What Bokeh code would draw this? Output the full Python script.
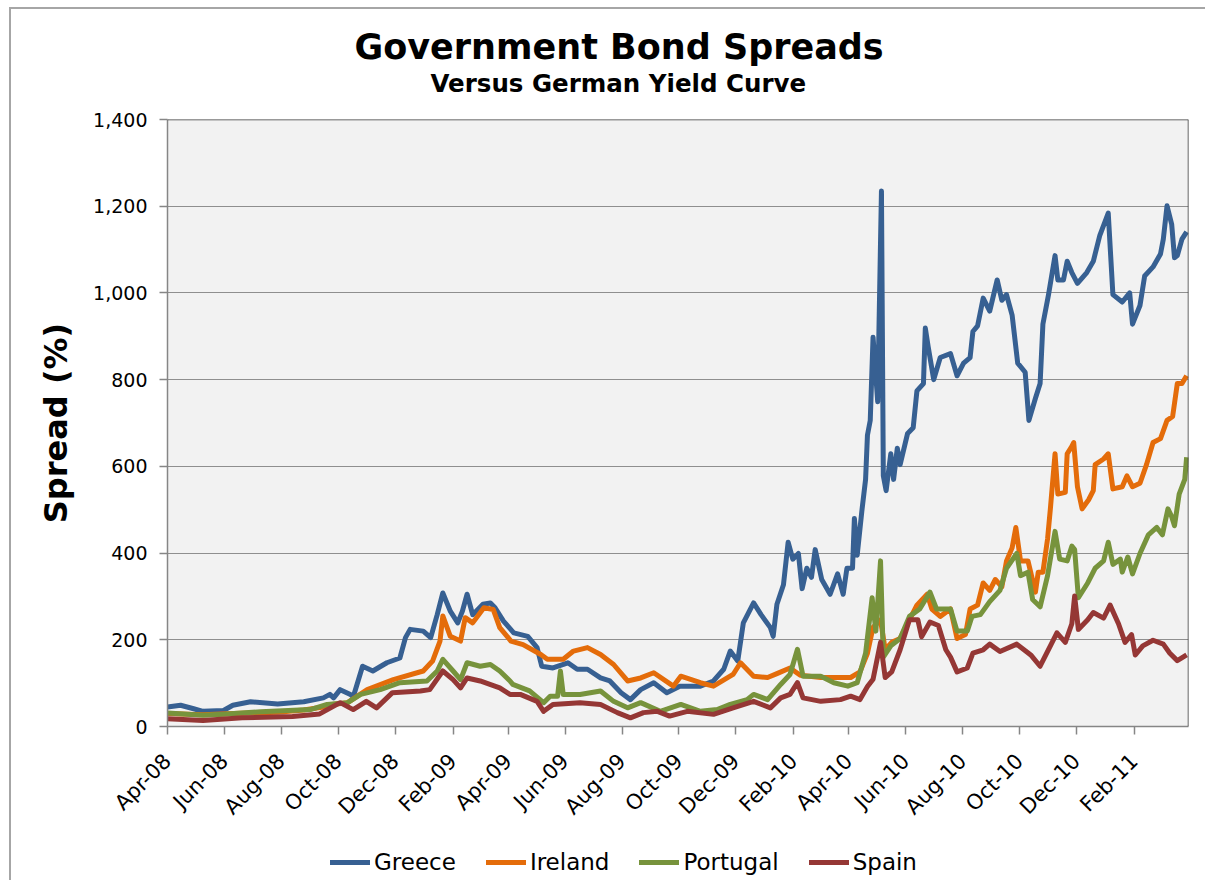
import math
import pandas as pd
from bokeh.plotting import figure
from bokeh.layouts import column
from bokeh.models import (Range1d, FixedTicker, DatetimeTickFormatter, NumeralTickFormatter,
                          Legend, LegendItem, Title, Span)
from bokeh.embed import file_html
from bokeh.resources import INLINE

# ---------------- data (basis points) ----------------
greece_dates = ["2008-04-01","2008-04-15","2008-04-29","2008-05-09","2008-05-31","2008-06-10","2008-06-29",
    "2008-07-28","2008-08-25","2008-09-15","2008-09-22","2008-09-26","2008-10-03","2008-10-14","2008-10-17",
    "2008-10-27","2008-11-07","2008-11-22","2008-12-06","2008-12-12","2008-12-17","2008-12-31","2009-01-08",
    "2009-01-15","2009-01-21","2009-01-29","2009-02-06","2009-02-11","2009-02-16","2009-02-22","2009-03-05",
    "2009-03-13","2009-03-18","2009-03-27","2009-04-07","2009-04-22","2009-05-02","2009-05-07","2009-05-19",
    "2009-06-04","2009-06-14","2009-06-25","2009-07-09","2009-07-19","2009-07-31","2009-08-10","2009-08-21",
    "2009-09-04","2009-09-18","2009-10-02","2009-10-24","2009-11-07","2009-11-18","2009-11-25","2009-12-03",
    "2009-12-09","2009-12-20","2009-12-28","2010-01-07","2010-01-10","2010-01-14","2010-01-21","2010-01-26",
    "2010-01-31","2010-02-06","2010-02-10","2010-02-15","2010-02-20","2010-02-24","2010-03-03","2010-03-12",
    "2010-03-20","2010-03-26","2010-03-30","2010-04-05","2010-04-07","2010-04-10","2010-04-15","2010-04-19",
    "2010-04-21","2010-04-24","2010-04-27","2010-05-02","2010-05-03","2010-05-06","2010-05-08","2010-05-11",
    "2010-05-16","2010-05-19","2010-05-23","2010-05-26","2010-06-03","2010-06-09","2010-06-13","2010-06-20",
    "2010-06-22","2010-06-25","2010-07-01","2010-07-08","2010-07-19","2010-07-26","2010-08-02","2010-08-09",
    "2010-08-12","2010-08-17","2010-08-23","2010-08-30","2010-09-07","2010-09-12","2010-09-17","2010-09-23",
    "2010-09-29","2010-10-07","2010-10-11","2010-10-18","2010-10-23","2010-10-26","2010-11-01","2010-11-08",
    "2010-11-11","2010-11-17","2010-11-21","2010-11-26","2010-12-02","2010-12-12","2010-12-19","2010-12-26",
    "2011-01-04","2011-01-09","2011-01-19","2011-01-27","2011-01-30","2011-02-07","2011-02-12","2011-02-21",
    "2011-03-01","2011-03-04","2011-03-08","2011-03-13","2011-03-16","2011-03-19","2011-03-24","2011-03-29"]
greece_values = [45,49,41,35,37,49,57,
    52,57,66,74,66,85,74,68,
    139,128,147,158,205,224,220,205,
    258,308,266,239,266,305,258,282,
    285,274,243,216,208,182,139,135,
    147,132,132,112,105,78,62,85,
    101,78,93,93,105,132,174,151,
    239,285,258,228,208,282,327,425,
    386,399,318,365,344,408,339,305,
    352,305,365,365,480,395,497,570,
    672,706,898,749,877,1235,578,544,
    629,570,642,604,676,689,774,791,
    919,877,800,851,860,809,838,851,
    911,924,988,958,1030,983,996,949,
    838,817,706,757,791,928,996,1086,
    1030,1030,1073,1047,1022,1047,1073,1133,
    1184,996,979,1000,928,971,1039,1060,
    1090,1124,1201,1158,1081,1086,1124,1141]

ireland_dates = ["2008-04-01","2008-05-09","2008-06-10","2008-07-28","2008-08-25","2008-09-15","2008-09-22",
    "2008-10-11","2008-11-01","2008-11-29","2008-12-31","2009-01-10","2009-01-18","2009-01-21","2009-01-29",
    "2009-02-09","2009-02-14","2009-02-22","2009-03-06","2009-03-16","2009-03-23","2009-04-01","2009-04-04",
    "2009-04-17","2009-05-06","2009-05-13","2009-05-30","2009-06-10","2009-06-25","2009-07-09","2009-07-23",
    "2009-08-07","2009-08-21","2009-09-04","2009-09-25","2009-10-03","2009-10-24","2009-11-07","2009-11-28",
    "2009-12-06","2009-12-20","2010-01-04","2010-01-14","2010-01-28","2010-02-08","2010-03-02","2010-03-20",
    "2010-04-03","2010-04-13","2010-04-21","2010-04-27","2010-05-05","2010-05-10","2010-05-17","2010-05-26",
    "2010-06-05","2010-06-13","2010-06-24","2010-06-29","2010-07-08","2010-07-19","2010-07-26","2010-08-04",
    "2010-08-09","2010-08-17","2010-08-23","2010-08-30","2010-09-05","2010-09-12","2010-09-17","2010-09-23",
    "2010-09-27","2010-10-02","2010-10-10","2010-10-18","2010-10-21","2010-10-26","2010-10-31","2010-11-03",
    "2010-11-08","2010-11-11","2010-11-19","2010-11-21","2010-11-26","2010-11-28","2010-12-02","2010-12-07",
    "2010-12-14","2010-12-19","2010-12-21","2010-12-30","2011-01-04","2011-01-09","2011-01-19","2011-01-24",
    "2011-01-30","2011-02-07","2011-02-14","2011-02-21","2011-03-01","2011-03-08","2011-03-14","2011-03-19",
    "2011-03-24","2011-03-29"]
ireland_values = [30,27,30,33,38,45,50,
    55,85,108,128,151,197,255,208,
    197,251,239,274,270,228,205,197,
    189,166,155,155,174,182,166,143,
    105,112,124,93,116,101,93,120,
    147,116,113,122,135,118,113,113,
    113,126,169,229,246,177,194,203,
    246,280,305,271,254,271,203,212,
    271,280,331,314,339,322,382,412,
    459,382,382,310,356,356,433,502,
    629,536,540,629,646,655,553,502,
    523,544,604,617,629,548,553,578,
    553,561,604,655,664,706,715,791,
    791,809]

portugal_dates = ["2008-04-01","2008-05-09","2008-05-31","2008-07-10","2008-09-01","2008-09-19","2008-10-11",
    "2008-10-25","2008-11-15","2008-12-06","2009-01-04","2009-01-15","2009-01-21","2009-02-01","2009-02-09",
    "2009-02-16","2009-03-02","2009-03-13","2009-03-23","2009-04-03","2009-04-06","2009-04-24","2009-05-09",
    "2009-05-16","2009-05-24","2009-05-27","2009-05-30","2009-06-17","2009-07-09","2009-07-23","2009-08-07",
    "2009-08-21","2009-09-11","2009-10-03","2009-10-24","2009-11-11","2009-11-25","2009-12-13","2009-12-20",
    "2010-01-04","2010-01-18","2010-01-28","2010-02-05","2010-02-11","2010-03-02","2010-03-16","2010-03-31",
    "2010-04-10","2010-04-19","2010-04-26","2010-04-30","2010-05-05","2010-05-08","2010-05-16","2010-05-26",
    "2010-06-05","2010-06-16","2010-06-27","2010-07-04","2010-07-19","2010-07-26","2010-08-06","2010-08-11",
    "2010-08-20","2010-08-30","2010-09-10","2010-09-17","2010-09-28","2010-10-02","2010-10-10","2010-10-15",
    "2010-10-23","2010-10-31","2010-11-08","2010-11-13","2010-11-21","2010-11-26","2010-11-29","2010-12-03",
    "2010-12-13","2010-12-21","2010-12-30","2011-01-04","2011-01-09","2011-01-17","2011-01-19","2011-01-25",
    "2011-01-30","2011-02-07","2011-02-16","2011-02-25","2011-03-03","2011-03-09","2011-03-13","2011-03-16",
    "2011-03-21","2011-03-27","2011-03-29"]
portugal_values = [31,26,28,34,39,51,55,
    74,85,101,105,128,155,128,108,
    147,139,143,128,105,97,82,55,
    70,70,128,74,74,82,58,43,
    55,35,51,35,39,51,62,74,
    62,97,120,178,116,116,101,93,
    101,169,297,220,382,160,186,203,
    254,271,310,271,271,220,220,254,
    258,288,314,365,399,348,356,293,
    276,348,450,386,382,416,408,297,
    331,365,382,425,374,386,356,391,
    352,399,442,459,442,502,484,463,
    536,570,621]

spain_dates = ["2008-04-01","2008-05-09","2008-06-20","2008-08-13","2008-09-11","2008-10-03","2008-10-17",
    "2008-10-31","2008-11-11","2008-11-28","2008-12-28","2009-01-07","2009-01-21","2009-02-01","2009-02-09",
    "2009-02-16","2009-03-02","2009-03-23","2009-04-03","2009-04-14","2009-05-02","2009-05-09","2009-05-19",
    "2009-06-17","2009-07-09","2009-07-27","2009-08-10","2009-08-24","2009-09-08","2009-09-21","2009-10-10",
    "2009-11-07","2009-11-28","2009-12-20","2010-01-07","2010-01-18","2010-01-28","2010-02-05","2010-02-11",
    "2010-03-02","2010-03-23","2010-04-03","2010-04-13","2010-04-21","2010-04-27","2010-05-05","2010-05-10",
    "2010-05-17","2010-05-26","2010-06-05","2010-06-14","2010-06-18","2010-06-27","2010-07-06","2010-07-14",
    "2010-07-19","2010-07-26","2010-08-06","2010-08-12","2010-08-23","2010-08-30","2010-09-10","2010-09-28",
    "2010-10-13","2010-10-23","2010-11-03","2010-11-10","2010-11-19","2010-11-26","2010-11-29","2010-12-03",
    "2010-12-13","2010-12-19","2010-12-30","2011-01-06","2011-01-15","2011-01-22","2011-01-29","2011-02-02",
    "2011-02-10","2011-02-21","2011-03-04","2011-03-11","2011-03-19","2011-03-29"]
spain_values = [18,14,20,23,29,55,39,
    58,43,78,82,85,128,108,89,
    112,105,89,74,74,58,35,51,
    55,51,32,20,32,35,24,35,
    28,43,58,43,66,74,101,66,
    58,62,70,62,92,109,194,113,
    126,177,246,246,207,241,233,177,
    160,126,135,169,177,190,173,190,
    165,139,186,216,194,237,301,224,
    246,263,250,280,237,194,212,165,
    186,199,190,169,152,165]

series_names = ["Greece", "Ireland", "Portugal", "Spain"]
series_colors = ["#376092", "#E46C0A", "#77933C", "#953735"]
y_ticks = [0, 200, 400, 600, 800, 1000, 1200, 1400]
x_tick_dates = pd.date_range("2008-04-01", "2011-02-01", freq="2MS")

FONT = "DejaVu Sans"
BORDER = "2px solid #a6a6a6"

p = figure(width=1196, height=825, x_axis_type="datetime", output_backend="svg",
           toolbar_location=None,
           x_range=Range1d(pd.Timestamp("2008-04-01"), pd.Timestamp("2011-03-31")),
           y_range=Range1d(0, 1400),
           min_border_left=156, min_border_right=19, min_border_top=110, min_border_bottom=108,
           styles={"border-top": BORDER, "border-left": BORDER,
                   "margin-left": "9px", "margin-top": "7px"})
p.background_fill_color = "#F2F2F2"
p.border_fill_color = "white"
p.outline_line_color = None

# grid
p.xgrid.grid_line_color = None
p.ygrid.grid_line_color = "#8f8f8f"
p.ygrid.grid_line_width = 1.2
p.ygrid.ticker = FixedTicker(ticks=y_ticks)

# axes
p.yaxis.ticker = FixedTicker(ticks=y_ticks)
p.yaxis.formatter = NumeralTickFormatter(format="0,0")
p.xaxis.ticker = FixedTicker(ticks=[d.value // 10**6 for d in x_tick_dates])
fmt = "%b-%y"
p.xaxis.formatter = DatetimeTickFormatter(months=fmt, days=fmt, years=fmt, hours=fmt, minutes=fmt,
                                          seconds=fmt, milliseconds=fmt, microseconds=fmt,
                                          hourmin=fmt, minsec=fmt)
p.xaxis.major_label_orientation = math.pi / 4
for ax in (p.xaxis[0], p.yaxis[0]):
    ax.axis_line_color = "#868686"
    ax.axis_line_width = 1.5
    ax.major_tick_line_color = "#868686"
    ax.major_tick_line_width = 1.5
    ax.major_tick_out = 8
    ax.major_tick_in = 0
    ax.minor_tick_line_color = None
    ax.major_label_text_font = FONT
    ax.major_label_text_color = "black"
p.yaxis.major_label_text_font_size = "19px"
p.xaxis.major_label_text_font_size = "21px"
p.xaxis.major_label_standoff = 23
p.yaxis.major_label_standoff = 12
p.yaxis.axis_label = "Spread (%)"
p.yaxis.axis_label_text_font = FONT
p.yaxis.axis_label_text_font_style = "bold"
p.yaxis.axis_label_text_font_size = "32px"
p.yaxis.axis_label_text_color = "black"
p.yaxis.axis_label_standoff = 15

# plot-area top and right border
p.add_layout(Span(location=1400, dimension="width", line_color="#3a3a3a", line_width=1.5))
p.add_layout(Span(location=pd.Timestamp("2011-03-31").value // 10**6, dimension="height",
                  line_color="#3a3a3a", line_width=1.5))

all_dates = [greece_dates, ireland_dates, portugal_dates, spain_dates]
all_values = [greece_values, ireland_values, portugal_values, spain_values]
for color, d, v in zip(series_colors, all_dates, all_values):
    p.line(pd.to_datetime(d), v, line_color=color, line_width=5, line_join="round")

# titles (added from the plot outwards)
p.add_layout(Title(text=" ", text_font_size="18px", standoff=0), "above")
p.add_layout(Title(text="Versus German Yield Curve", align="left", offset=263,
                   text_font=FONT, text_font_style="bold", text_font_size="24.5px",
                   text_color="black", standoff=0), "above")
p.add_layout(Title(text="Government Bond Spreads", align="left", offset=187,
                   text_font=FONT, text_font_style="bold", text_font_size="35px",
                   text_color="black", standoff=0), "above")

# legend strip below the chart (its frame is aligned with the chart's frame)
pl = figure(width=1196, height=48, output_backend="svg", toolbar_location=None,
            x_range=Range1d(0, 1), y_range=Range1d(0, 1), min_border=0,
            x_axis_location=None, y_axis_location=None,
            styles={"border-left": BORDER, "margin-left": "9px"})
pl.grid.visible = False
pl.outline_line_color = None
pl.background_fill_color = "white"
pl.border_fill_color = "white"
items = []
for name, color in zip(series_names, series_colors):
    # legend proxies: lines lying outside the visible range, used only for their style
    r = pl.line(x=[-2, -1], y=[-2, -1], line_color=color, line_width=5, line_cap="round")
    items.append(LegendItem(label=name, renderers=[r]))
legend = Legend(items=items, orientation="horizontal", location=(163, 5),
                label_text_font=FONT, label_text_font_size="23px", label_text_color="black",
                glyph_width=40, glyph_height=24, label_standoff=4, spacing=30,
                padding=0, margin=0, border_line_color=None, background_fill_alpha=0)
pl.add_layout(legend, "center")

layout = column(p, pl, spacing=0)
open("out.html", "w").write(file_html(layout, INLINE))
